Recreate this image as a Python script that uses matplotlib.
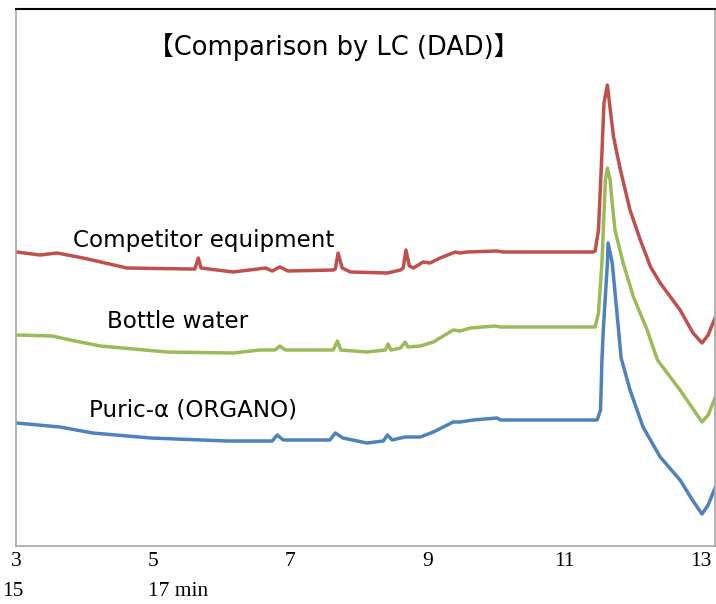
import matplotlib
matplotlib.use('Agg')
import matplotlib.pyplot as plt

# retention time (min) and detector signal (arbitrary units)
t_comp = [3.01, 3.35, 3.60, 3.98, 4.62, 5.54, 5.61, 5.66, 5.70, 6.17, 6.64, 6.74, 6.85, 6.97,
          7.63, 7.66, 7.70, 7.76, 7.88, 8.42, 8.61, 8.65, 8.69, 8.74, 8.80, 8.94, 9.04, 9.19,
          9.41, 9.48, 9.58, 10.02, 10.11, 11.42, 11.45, 11.50, 11.55, 11.58, 11.63, 11.66,
          11.72, 11.82, 11.96, 12.11, 12.26, 12.40, 12.69, 12.88, 13.01, 13.10, 13.20]
s_comp = [294, 291, 293, 288, 278, 277, 277, 288, 278, 274, 278, 275, 279, 275,
          276, 277, 293, 278, 274, 273, 276, 278, 296, 280, 278, 284, 283, 288,
          294, 293, 294, 295, 294, 294, 295, 316, 393, 443, 461, 443,
          409, 376, 336, 306, 279, 263, 236, 213, 203, 211, 228]

t_bottle = [3.01, 3.53, 3.79, 4.23, 5.20, 6.17, 6.56, 6.78, 6.85, 6.93, 7.15, 7.63, 7.69, 7.74,
            8.12, 8.39, 8.43, 8.47, 8.61, 8.68, 8.72, 8.90, 9.09, 9.38, 9.48, 9.63, 9.99, 10.07,
            11.42, 11.45, 11.50, 11.55, 11.57, 11.60, 11.63, 11.67, 11.70, 11.74, 11.86, 12.01,
            12.21, 12.36, 12.69, 13.01, 13.10, 13.20]
s_bottle = [211, 210, 206, 200, 194, 193, 196, 196, 200, 196, 196, 196, 205, 196,
            194, 196, 202, 196, 198, 204, 199, 200, 204, 216, 215, 218, 220, 219,
            219, 219, 233, 283, 316, 366, 378, 366, 343, 316, 283, 249,
            216, 186, 156, 124, 131, 148]

t_puric = [3.01, 3.64, 4.12, 4.96, 6.08, 6.74, 6.81, 6.90, 7.58, 7.66, 7.77, 8.12, 8.36, 8.42,
           8.49, 8.61, 8.68, 8.90, 9.09, 9.38, 9.48, 9.67, 10.02, 10.07, 11.42, 11.48, 11.53,
           11.55, 11.57, 11.63, 11.64, 11.70, 11.77, 11.83, 11.96, 12.15, 12.40, 12.69, 12.87,
           13.01, 13.10, 13.20]
s_puric = [123, 119, 113, 108, 105, 105, 111, 106, 106, 113, 108, 103, 105, 111,
           106, 108, 109, 109, 114, 124, 124, 126, 128, 126, 126, 126, 136,
           186, 216, 283, 303, 283, 233, 188, 156, 119, 89, 66, 46,
           32, 41, 58]

series_names = ['Competitor equipment', 'Bottle water', 'Puric-α (ORGANO)']
tick_values = [3, 5, 7, 9, 11, 13]

fig = plt.figure(figsize=(7.16, 6.04), dpi=100)
ax = fig.add_axes([16 / 716, 58 / 604, 699 / 716, 537 / 604])

ax.plot(t_comp, s_comp, color='#C0504D', lw=2.5, solid_joinstyle='round')
ax.plot(t_bottle, s_bottle, color='#9BBB59', lw=2.5, solid_joinstyle='round')
ax.plot(t_puric, s_puric, color='#4F81BD', lw=2.5, solid_joinstyle='round')

ax.set_xlim(3.0, 13.2)
ax.set_ylim(0, 537)
ax.set_yticks([])
ax.set_xticks(tick_values)
ax.set_xticklabels([str(v) for v in tick_values], family='Liberation Serif', fontsize=15.5)
ax.tick_params(axis='x', length=0, pad=4)

for side in ['left', 'bottom', 'right']:
    ax.spines[side].set_color('#A6A6A6')
    ax.spines[side].set_linewidth(1.2)
ax.spines['top'].set_color('black')
ax.spines['top'].set_linewidth(1.5)

lab_font = ['DejaVu Sans', 'Noto Sans CJK JP']
ax.text(3.83, 305, series_names[0], family=lab_font, fontsize=16.6, va='center')
ax.text(4.33, 224, series_names[1], family=lab_font, fontsize=16.6, va='center')
ax.text(4.06, 136, series_names[2], family=lab_font, fontsize=16.6, va='center')

fig.text(334 / 716, 1 - 47 / 604, '【Comparison by LC (DAD)】', family=lab_font,
         fontsize=18.5, ha='center', va='center')

fig.text(2 / 716, 1 - 591 / 604, '15', family='Liberation Serif', fontsize=15.5, va='center')
fig.text(148 / 716, 1 - 591 / 604, '17 min', family='Liberation Serif', fontsize=15.5, va='center')

fig.savefig('out.png', dpi=100)
